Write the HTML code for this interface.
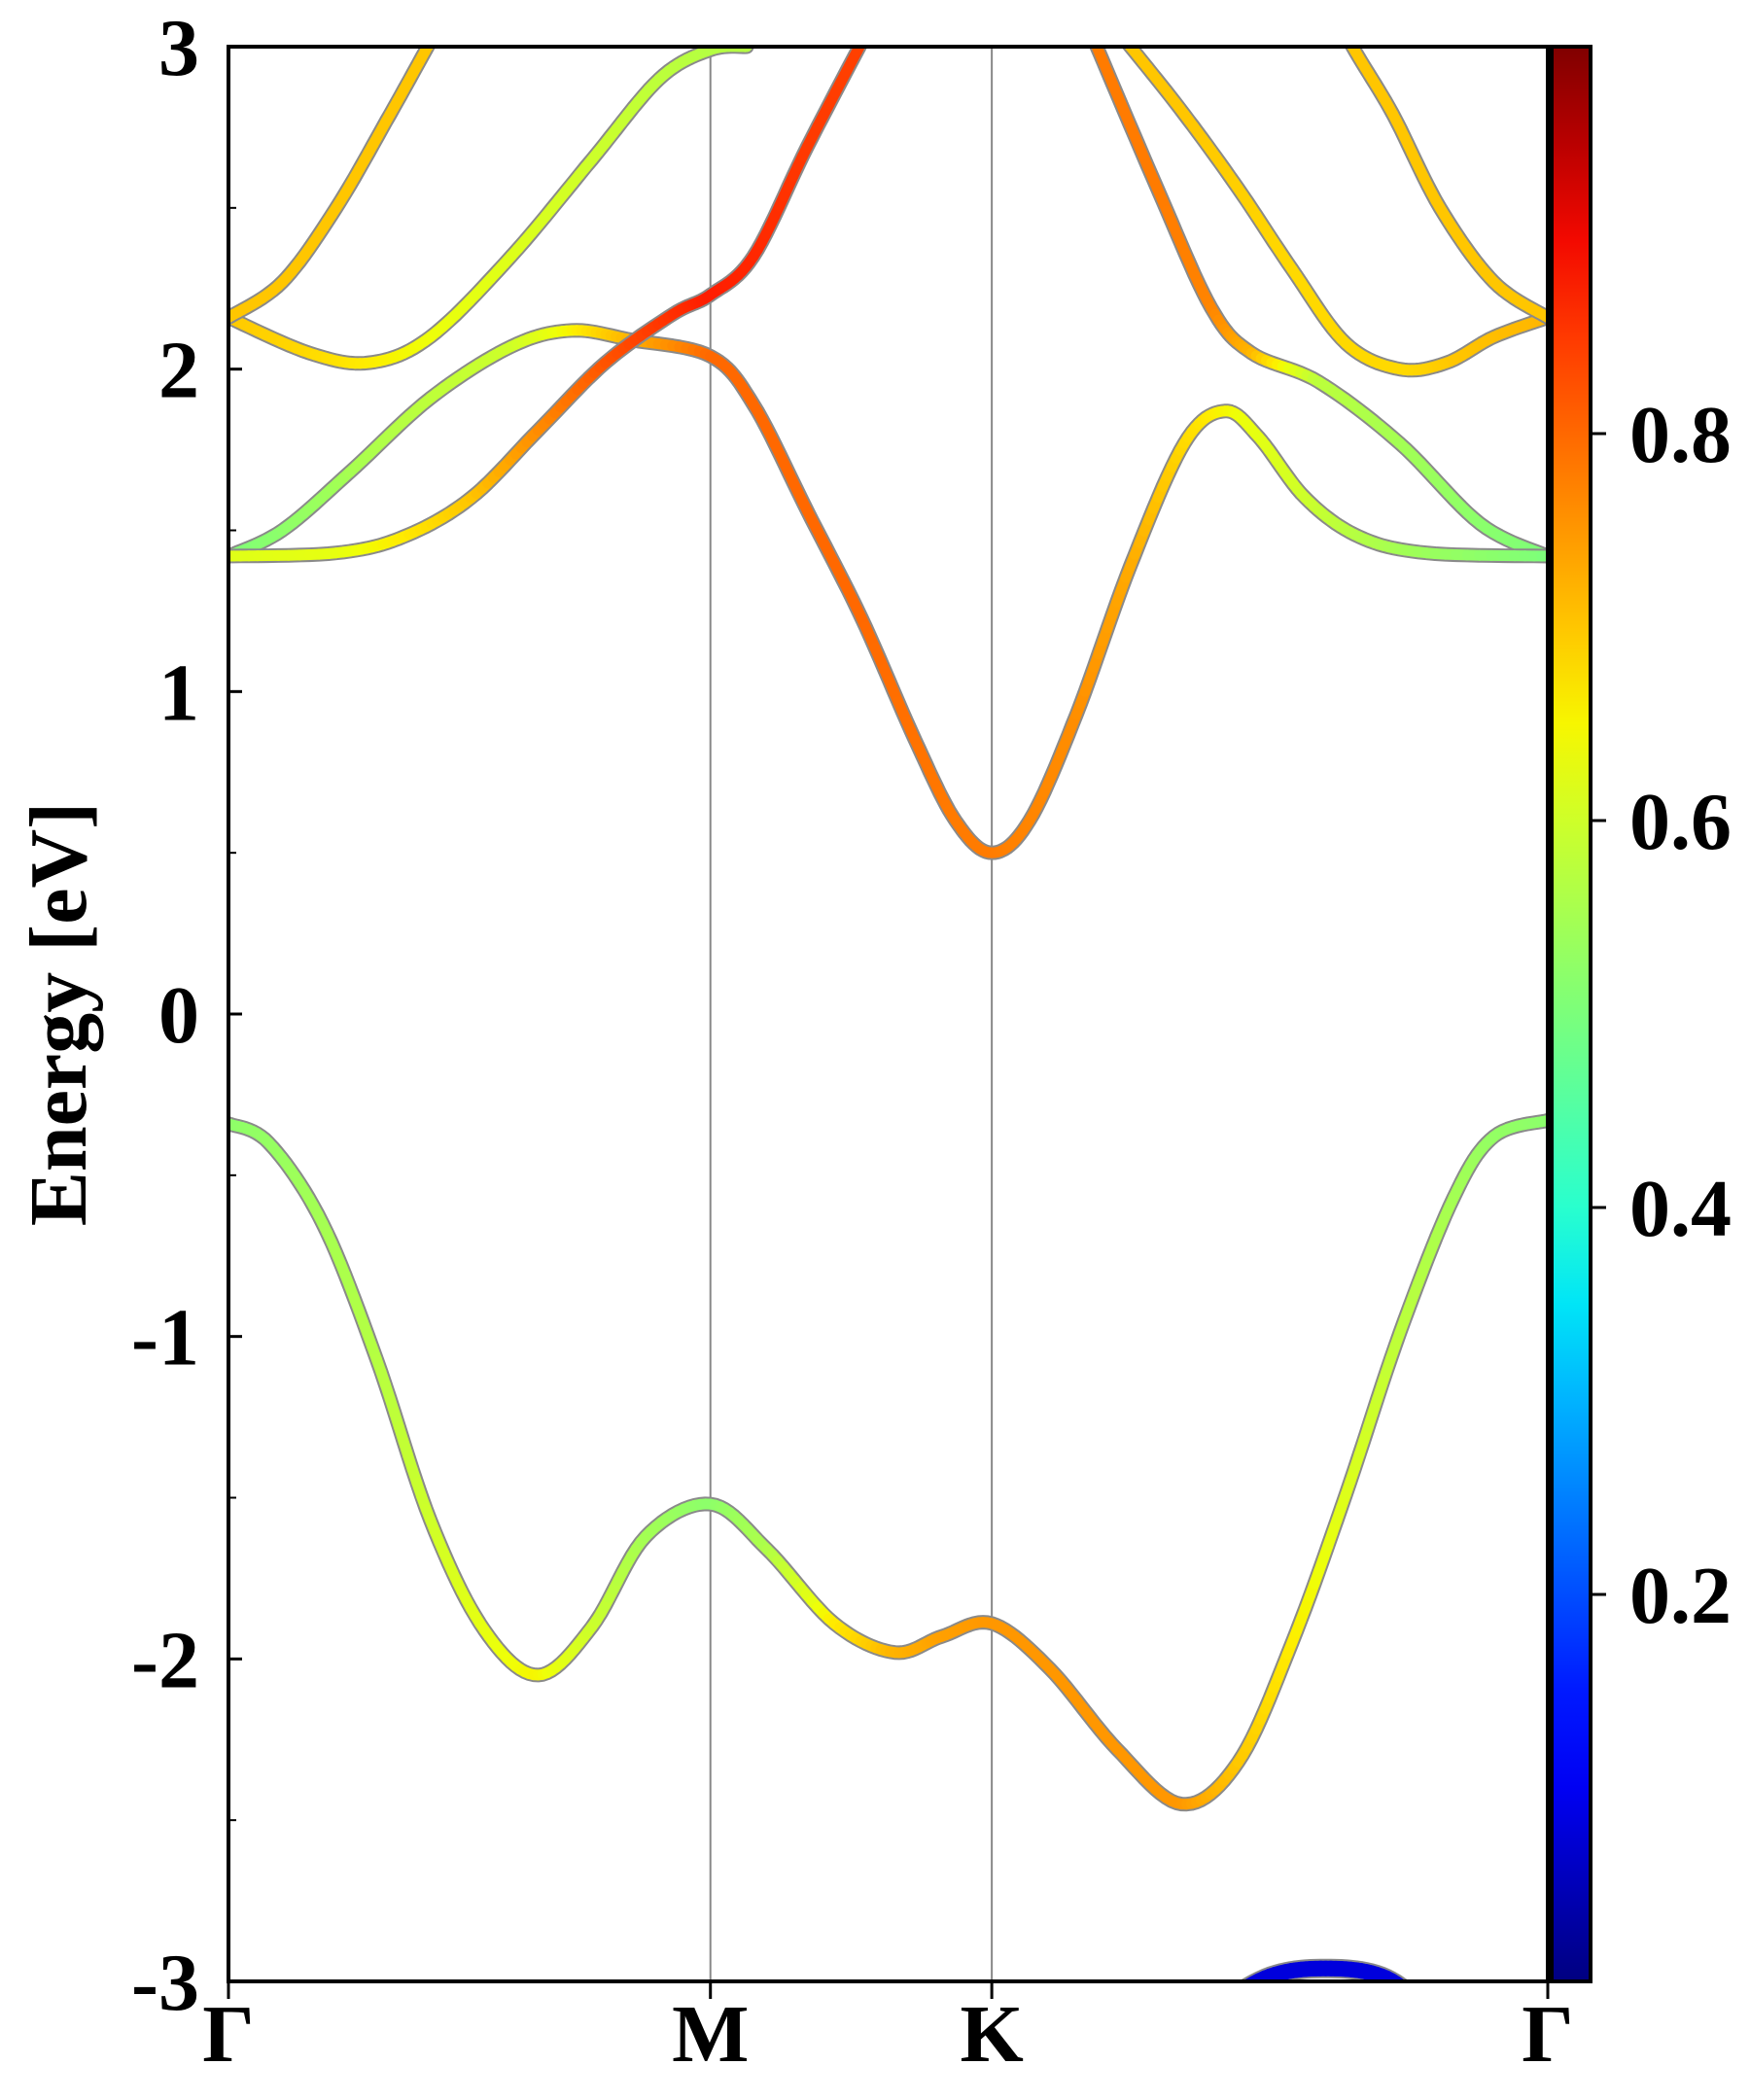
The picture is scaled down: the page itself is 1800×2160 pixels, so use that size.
<!DOCTYPE html>
<html><head><meta charset="utf-8"><style>
html,body{margin:0;padding:0;background:#fff}
svg{display:block}
text{font-family:"Liberation Serif",serif;font-weight:bold;fill:#000}
</style></head><body>
<svg id="chart" width="1800" height="2160" viewBox="0 0 1800 2160" xmlns="http://www.w3.org/2000/svg">
<defs><clipPath id="clip"><rect x="235" y="48" width="1357" height="1990"/></clipPath>
<linearGradient id="jetgrad" x1="0" y1="1" x2="0" y2="0"></linearGradient></defs>
<g id="grid"></g>
<g id="bands" clip-path="url(#clip)"></g>
<g id="axes"></g>
<text transform="translate(88,1043) rotate(-90)" text-anchor="middle" font-size="84">Energy [eV]</text>
</svg>
<script>
// k-path positions (path-distance units), labels
const kTicks = [0, 358, 567, 980];
const kLabels = ["Γ", "M", "K", "Γ"];
const eTicks = [-3, -2, -1, 0, 1, 2, 3];
const eMinor = [-2.5, -1.5, -0.5, 0.5, 1.5, 2.5];
const cbTicks = [0.2, 0.4, 0.6, 0.8];
// bands: k, energy, weight
const vbK = [0,30,70,110,150,190,230,270,310,358,400,450,495,530,567,610,660,708,750,790,830,870,910,940,980];
const vbE = [-0.34,-0.40,-0.65,-1.07,-1.57,-1.91,-2.05,-1.90,-1.62,-1.52,-1.66,-1.89,-1.98,-1.93,-1.89,-2.03,-2.28,-2.45,-2.32,-1.95,-1.49,-0.99,-0.57,-0.38,-0.33];
const vbW = [0.52,0.53,0.55,0.57,0.6,0.63,0.65,0.6,0.55,0.52,0.56,0.66,0.72,0.74,0.75,0.75,0.75,0.75,0.7,0.66,0.62,0.58,0.55,0.53,0.52];
const c1K = [0,80,130,180,230,280,330,358,390,430,475];
const c1E = [1.42,1.43,1.48,1.60,1.81,2.02,2.17,2.23,2.35,2.69,3.05];
const c1W = [0.62,0.63,0.66,0.70,0.76,0.82,0.86,0.88,0.87,0.85,0.84];
const c2K = [0,40,90,150,210,255,300,358,390,430,470,510,540,567,595,630,670,710,740,765,800,840,890,980];
const c2E = [1.42,1.50,1.68,1.91,2.07,2.12,2.09,2.04,1.89,1.56,1.23,0.85,0.60,0.50,0.60,0.93,1.39,1.77,1.87,1.79,1.60,1.48,1.43,1.42];
const c2W = [0.5,0.52,0.55,0.58,0.6,0.65,0.72,0.8,0.8,0.8,0.8,0.79,0.78,0.78,0.77,0.76,0.73,0.68,0.65,0.63,0.6,0.57,0.54,0.5];
const c3K = [645,690,730,760,810,870,930,980];
const c3E = [3.0,2.56,2.19,2.05,1.96,1.77,1.52,1.42];
const c3W = [0.78,0.78,0.77,0.72,0.58,0.55,0.52,0.5];
const c4K = [0,60,105,150,210,270,320,358,385];
const c4E = [2.16,2.05,2.02,2.10,2.35,2.65,2.90,2.99,3.0];
const c4W = [0.7,0.68,0.66,0.64,0.62,0.6,0.58,0.57,0.57];
const c5K = [0,40,80,120,148,175];
const c5E = [2.16,2.27,2.50,2.79,3.0,3.2];
const c5W = [0.7,0.7,0.7,0.7,0.7,0.7];
const c6K = [980,940,905,870,830,790,750,710,670,640];
const c6E = [2.16,2.10,2.02,2.00,2.08,2.31,2.56,2.79,3.0,3.15];
const c6W = [0.72,0.71,0.7,0.68,0.68,0.68,0.69,0.7,0.7,0.7];
const c7K = [980,940,900,865,835,810];
const c7E = [2.16,2.27,2.50,2.79,3.0,3.2];
const c7W = [0.7,0.7,0.7,0.7,0.7,0.7];
const c8K = [720,770,815,860,900];
const c8E = [-3.12,-2.99,-2.96,-2.99,-3.12];
const c8W = [0.08,0.08,0.08,0.08,0.08];

const X0=235,X1=1592,Y0=48,Y1=2038;
const xk = k => X0 + (k - kTicks[0])/(kTicks[3]-kTicks[0])*(X1-X0);
const yE = e => Y1 - (e + 3)/6*(Y1-Y0);
const CB0=2038,CB1=48;
const yC = v => CB0 - v*(CB0-CB1);
function interp(pts,x){for(let i=0;i<pts.length-1;i++){if(x<=pts[i+1][0]){const t=(x-pts[i][0])/(pts[i+1][0]-pts[i][0]);return pts[i][1]+t*(pts[i+1][1]-pts[i][1]);}}return pts[pts.length-1][1];}
function jet(v){v=Math.max(0,Math.min(1,v));
 const r=interp([[0,0],[0.35,0],[0.66,1],[0.89,1],[1,0.5]],v);
 const g=interp([[0,0],[0.125,0],[0.375,1],[0.64,1],[0.91,0],[1,0]],v);
 const b=interp([[0,0.5],[0.11,1],[0.34,1],[0.65,0],[1,0]],v);
 return `rgb(${Math.round(r*255)},${Math.round(g*255)},${Math.round(b*255)})`;}
const NS="http://www.w3.org/2000/svg";
function mk(tag,attrs,parent){const e=document.createElementNS(NS,tag);for(const a in attrs)e.setAttribute(a,attrs[a]);parent.appendChild(e);return e;}
const svg=document.getElementById('chart');
const grid=document.getElementById('grid'),bandsG=document.getElementById('bands'),axes=document.getElementById('axes');

[1,2].forEach(i=>{const l=mk('line',{x1:xk(kTicks[i]),x2:xk(kTicks[i]),y1:Y0,y2:Y1,stroke:'#888','stroke-width':2},grid);

});

function drawBand(K,E,W,name,wid){
 wid=wid||11;
 const P=K.map((k,i)=>[xk(k),yE(E[i]),W[i]]);
 const pts=[];
 for(let i=0;i<P.length-1;i++){const p0=P[Math.max(0,i-1)],p1=P[i],p2=P[i+1],p3=P[Math.min(P.length-1,i+2)];
  const N=12;for(let s=0;s<N;s++){const t=s/N,t2=t*t,t3=t2*t;
   const f=(a,b,c,d)=>0.5*((2*b)+(-a+c)*t+(2*a-5*b+4*c-d)*t2+(-a+3*b-3*c+d)*t3);
   pts.push([f(p0[0],p1[0],p2[0],p3[0]),f(p0[1],p1[1],p2[1],p3[1]),p1[2]+(p2[2]-p1[2])*t]);}}
 const L=P[P.length-1];pts.push([L[0],L[1],L[2]]);
 const g=mk('g',{},bandsG);
 
 
 mk('polyline',{points:pts.map(p=>p[0].toFixed(1)+','+p[1].toFixed(1)).join(' '),fill:'none',stroke:'#8a8a8a','stroke-width':wid+4,'stroke-linejoin':'round','stroke-linecap':'round'},g);
 for(let i=0;i<pts.length-1;i++){mk('line',{x1:pts[i][0],y1:pts[i][1],x2:pts[i+1][0],y2:pts[i+1][1],stroke:jet((pts[i][2]+pts[i+1][2])/2),'stroke-width':wid,'stroke-linecap':'round'},g);}
}
drawBand(vbK,vbE,vbW,'valence-band');
drawBand(c8K,c8E,c8W,'deep-band',16);
drawBand(c4K,c4E,c4W,'conduction-band-4');
drawBand(c5K,c5E,c5W,'conduction-band-5');
drawBand(c6K,c6E,c6W,'conduction-band-6');
drawBand(c7K,c7E,c7W,'conduction-band-7');
drawBand(c3K,c3E,c3W,'conduction-band-3');
drawBand(c2K,c2E,c2W,'conduction-band-2');
drawBand(c1K,c1E,c1W,'conduction-band-1');

const fr=mk('rect',{x:X0,y:Y0,width:X1-X0,height:Y1-Y0,fill:'none',stroke:'#000','stroke-width':4},axes);


eTicks.forEach(e=>{const y=yE(e);
 const t=mk('line',{x1:X0,x2:X0+14,y1:y,y2:y,stroke:'#000','stroke-width':3},axes);
 
 
 const tx=mk('text',{x:X0-30,y:y+29,'text-anchor':'end','font-size':84},axes);tx.textContent=String(e);
 
 });
eMinor.forEach(e=>{const y=yE(e);const t=mk('line',{x1:X0,x2:X0+8,y1:y,y2:y,stroke:'#000','stroke-width':2},axes);
 
 });
kTicks.forEach((k,i)=>{const x=xk(k);
 const t=mk('line',{x1:x,x2:x,y1:Y1,y2:Y1+18,stroke:'#000','stroke-width':3},axes);
 
 
 const tx=mk('text',{x:x,y:2120,'text-anchor':'middle','font-size':84},axes);tx.textContent=kLabels[i];
 
 });

const grad=document.getElementById('jetgrad');
for(let i=0;i<=20;i++){mk('stop',{offset:(i/20),'stop-color':jet(i/20)},grad);}
const cb=mk('rect',{x:1596,y:CB1,width:40,height:CB0-CB1,fill:'url(#jetgrad)',stroke:'#000','stroke-width':4},axes);


cbTicks.forEach(v=>{const y=yC(v);
 const t=mk('line',{x1:1636,x2:1652,y1:y,y2:y,stroke:'#000','stroke-width':3},axes);
 
 
 const tx=mk('text',{x:1676,y:y+29,'font-size':84},axes);tx.textContent=v.toFixed(1);
 
 });
</script>
</body></html>
